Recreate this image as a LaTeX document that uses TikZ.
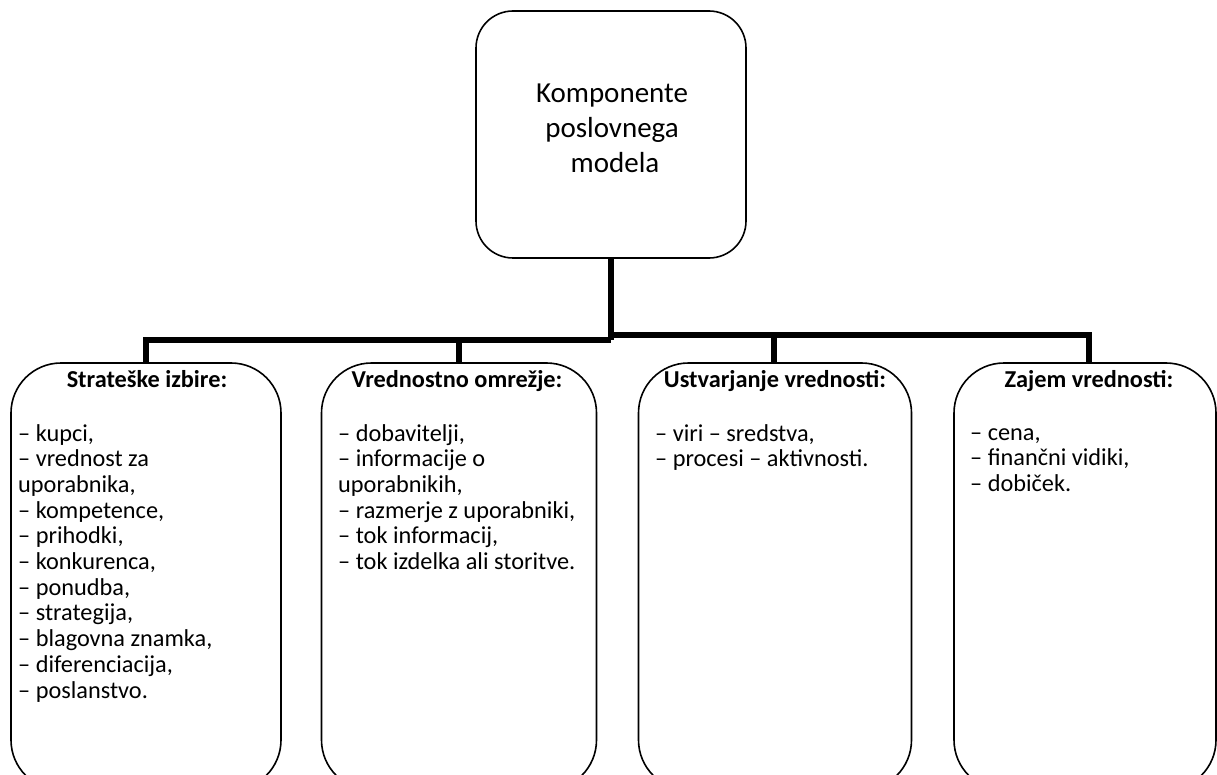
\documentclass[tikz,border=0pt]{standalone}
\usepackage{fontspec}
\setmainfont{Carlito}
\begin{document}
\begin{tikzpicture}[x=1pt,y=1pt,
  box/.style={draw, line width=1.6pt, rounded corners=50pt, inner sep=0pt, minimum height=427pt},
  conn/.style={line width=6pt},
  titletext/.style={font=\fontsize{29}{35.2}\selectfont, align=center, anchor=north, inner sep=0pt},
  head/.style={font=\fontsize{24.3}{25.7}\selectfont\bfseries, anchor=base, inner sep=0pt},
  list/.style={font=\fontsize{24.3}{25.7}\selectfont, align=left, anchor=north west, inner sep=0pt}]
\useasboundingbox (0,0) rectangle (1217,-775);
\clip (0,0) rectangle (1217,-775);
% top box
\node[box, rounded corners=37pt, minimum width=270pt, minimum height=247pt] (top) at (611,-134.5) {};
\node[titletext] (tt) at (612,-80) {\rule{0pt}{22pt}Komponente\\poslovnega\\\hspace{6pt}modela};
% bottom boxes
\node[box, minimum width=270pt] (b1) at (146,-576.5) {};
\node[box, minimum width=275pt] (b2) at (459,-576.5) {};
\node[box, minimum width=273pt] (b3) at (775,-576.5) {};
\node[box, minimum width=262pt] (b4) at (1085,-576.5) {};
% junctions
\coordinate (jl) at (611,-340);
\coordinate (jr) at (611,-335);
\draw[conn] (top.south) -- (top.south |- jl);
\draw[conn] (b1.north) |- (jl);
\draw[conn] (b2.north) |- (jl);
\draw[conn] ([xshift=-1pt]b3.north) |- (jr);
\draw[conn] ([xshift=4pt]b4.north) |- (jr);
% headings
\node[head] (h1) at (147,-387) {Strateške izbire:};
\node[head] (h2) at (457,-387) {Vrednostno omrežje:};
\node[head] (h3) at (775,-387) {Ustvarjanje vrednosti:};
\node[head] (h4) at (1089,-387) {Zajem vrednosti:};
% lists
\node[list] (l1) at (18,-424) {\rule{0pt}{16pt}– kupci,\\– vrednost za\\uporabnika,\\– kompetence,\\– prihodki,\\– konkurenca,\\– ponudba,\\– strategija,\\– blagovna znamka,\\– diferenciacija,\\– poslanstvo.};
\node[list] (l2) at (338,-424) {\rule{0pt}{16pt}– dobavitelji,\\– informacije o\\uporabnikih,\\– razmerje z uporabniki,\\– tok informacij,\\– tok izdelka ali storitve.};
\node[list] (l3) at (655,-424) {\rule{0pt}{16pt}– viri – sredstva,\\– procesi – aktivnosti.};
\node[list] (l4) at (970,-424) {\rule{0pt}{16pt}– cena,\\– finančni vidiki,\\– dobiček.};
\end{tikzpicture}
\end{document}
